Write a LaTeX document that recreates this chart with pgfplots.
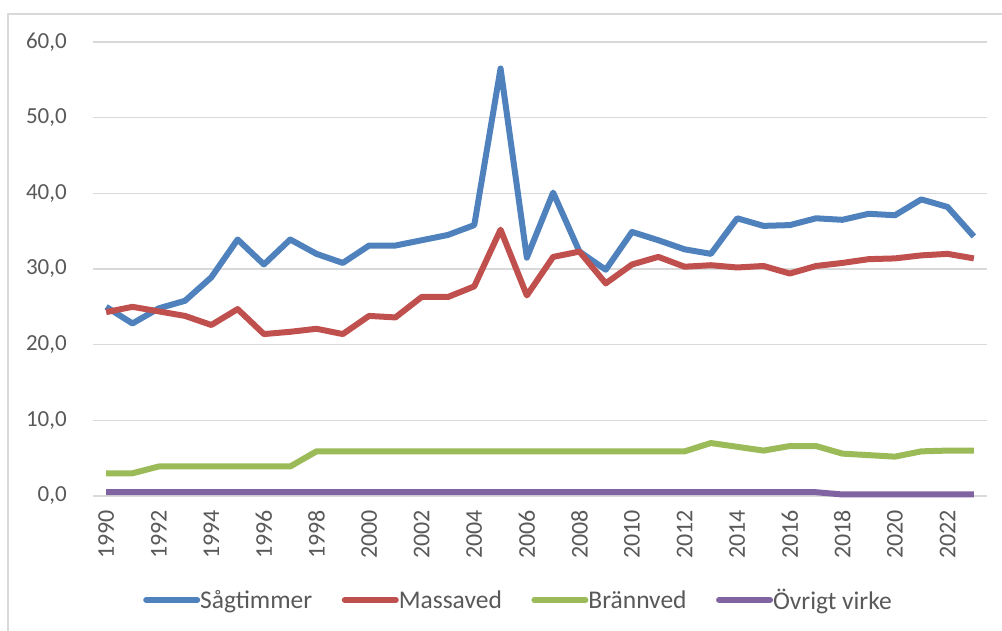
\documentclass[border=0pt]{standalone}
\usepackage{fontspec}
\setmainfont{Carlito}
\usepackage{pgfplots}
\pgfplotsset{compat=1.18}
\definecolor{cBlue}{HTML}{4F81BD}
\definecolor{cRed}{HTML}{C0504D}
\definecolor{cGreen}{HTML}{9BBB59}
\definecolor{cPurple}{HTML}{8064A2}
\definecolor{cText}{HTML}{595959}
\definecolor{cGrid}{HTML}{D9D9D9}
\begin{document}
\begin{tikzpicture}
\useasboundingbox (0pt,0pt) rectangle (1002pt,631pt);
\draw[cGrid, line width=2pt] (8pt,-20pt) -- (8pt,617pt) -- (1030pt,617pt);
\begin{axis}[
  at={(93pt,135pt)}, anchor=south west,
  scale only axis, width=894pt, height=454pt,
  xmin=1989.5, xmax=2023.5, ymin=0, ymax=60,
  xtick={1990,1992,1994,1996,1998,2000,2002,2004,2006,2008,2010,2012,2014,2016,2018,2020,2022},
  xticklabels={1990,1992,1994,1996,1998,2000,2002,2004,2006,2008,2010,2012,2014,2016,2018,2020,2022},
  ytick={0,10,20,30,40,50,60},
  yticklabels={{0,0},{10,0},{20,0},{30,0},{40,0},{50,0},{60,0}},
  axis x line*=bottom, axis y line*=left,
  y axis line style={draw=none},
  x axis line style={draw=cGrid, line width=1.5pt, -},
  tick style={draw=none},
  ymajorgrids, grid style={draw=cGrid, line width=1.5pt},
  yticklabel style={font=\fontsize{23}{27}\selectfont, text=cText, inner sep=0pt, anchor=east, xshift=-26pt},
  xticklabel style={font=\fontsize{24}{28}\selectfont, text=cText, inner sep=0pt, yshift=-14pt, rotate=90, anchor=east},
  legend columns=4,
  legend style={draw=none, fill=none, at={(rel axis cs:0.4760,-0.229)}, anchor=center,
    font=\fontsize{25.5}{30}\selectfont, text=cText, inner sep=0pt,
    /tikz/every odd column/.append style={column sep=-2pt},
    /tikz/every even column/.append style={column sep=27.5pt}},
  legend image code/.code={\draw[#1, line cap=round] (0pt,0pt) -- (51pt,0pt);},
  every axis plot/.append style={line width=6pt, line join=round, mark=none},
  clip=false,
]
\addplot[cBlue] coordinates {(1990,25.0)(1991,22.8)(1992,24.8)(1993,25.8)(1994,28.9)(1995,33.9)(1996,30.6)(1997,33.9)(1998,32.0)(1999,30.8)(2000,33.1)(2001,33.1)(2002,33.8)(2003,34.5)(2004,35.8)(2005,56.5)(2006,31.5)(2007,40.1)(2008,32.3)(2009,29.9)(2010,34.9)(2011,33.8)(2012,32.6)(2013,32.0)(2014,36.7)(2015,35.7)(2016,35.8)(2017,36.7)(2018,36.5)(2019,37.3)(2020,37.1)(2021,39.2)(2022,38.2)(2023,34.3)};
\addlegendentry{Sågtimmer}
\addplot[cRed] coordinates {(1990,24.3)(1991,25.0)(1992,24.4)(1993,23.8)(1994,22.6)(1995,24.7)(1996,21.4)(1997,21.7)(1998,22.1)(1999,21.4)(2000,23.8)(2001,23.6)(2002,26.3)(2003,26.3)(2004,27.7)(2005,35.2)(2006,26.5)(2007,31.6)(2008,32.3)(2009,28.1)(2010,30.6)(2011,31.6)(2012,30.3)(2013,30.5)(2014,30.2)(2015,30.4)(2016,29.4)(2017,30.4)(2018,30.8)(2019,31.3)(2020,31.4)(2021,31.8)(2022,32.0)(2023,31.4)};
\addlegendentry{Massaved}
\addplot[cGreen] coordinates {(1990,3.0)(1991,3.0)(1992,3.9)(1993,3.9)(1994,3.9)(1995,3.9)(1996,3.9)(1997,3.9)(1998,5.9)(1999,5.9)(2000,5.9)(2001,5.9)(2002,5.9)(2003,5.9)(2004,5.9)(2005,5.9)(2006,5.9)(2007,5.9)(2008,5.9)(2009,5.9)(2010,5.9)(2011,5.9)(2012,5.9)(2013,7.0)(2014,6.5)(2015,6.0)(2016,6.6)(2017,6.6)(2018,5.6)(2019,5.4)(2020,5.2)(2021,5.9)(2022,6.0)(2023,6.0)};
\addlegendentry{Brännved}
\addplot[cPurple] coordinates {(1990,0.5)(1991,0.5)(1992,0.5)(1993,0.5)(1994,0.5)(1995,0.5)(1996,0.5)(1997,0.5)(1998,0.5)(1999,0.5)(2000,0.5)(2001,0.5)(2002,0.5)(2003,0.5)(2004,0.5)(2005,0.5)(2006,0.5)(2007,0.5)(2008,0.5)(2009,0.5)(2010,0.5)(2011,0.5)(2012,0.5)(2013,0.5)(2014,0.5)(2015,0.5)(2016,0.5)(2017,0.5)(2018,0.2)(2019,0.2)(2020,0.2)(2021,0.2)(2022,0.2)(2023,0.2)};
\addlegendentry{Övrigt virke}
\end{axis}
\end{tikzpicture}
\end{document}
